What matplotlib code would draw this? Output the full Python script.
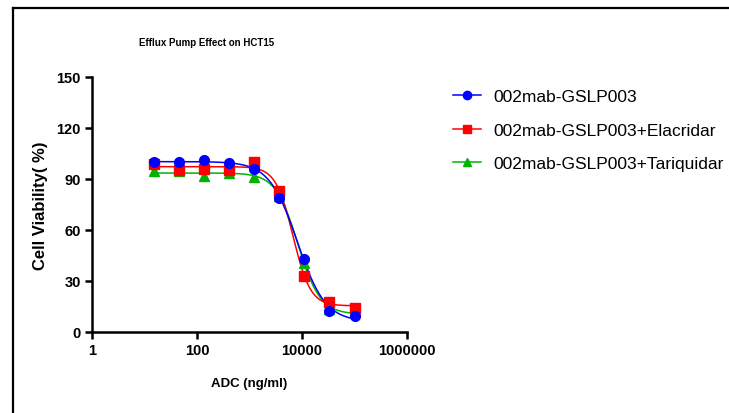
import numpy as np
import matplotlib
matplotlib.use("Agg")
import matplotlib.pyplot as plt
from matplotlib.lines import Line2D

# ADC concentrations (ng/ml), 3-fold dilution
conc = [15.2, 45.7, 137, 412, 1235, 3704, 11111, 33333, 100000]

# cell viability (%)
gslp003 = [100.0, 100.0, 101.0, 99.5, 96.0, 78.7, 42.7, 12.3, 9.4]
elacridar = [99.0, 95.2, 96.0, 95.5, 100.0, 82.8, 32.9, 17.8, 14.3]
tariquidar = [94.6, 94.6, 92.0, 93.6, 91.0, 80.0, 40.7, 13.3, 12.3]

labels = ["002mab-GSLP003", "002mab-GSLP003+Elacridar", "002mab-GSLP003+Tariquidar"]
colors = ["#0000ff", "#ff0000", "#00b400"]
markers = ["o", "s", "^"]

FONT = "Liberation Sans"


def fit_4pl(x, y):
    # grid search on ic50 / hill, top and bottom by linear least squares
    x = np.asarray(x, float)
    y = np.asarray(y, float)
    best = None
    for lic in np.linspace(2.5, 5.0, 251):
        for h in np.linspace(0.5, 4.0, 141):
            s = 1.0 / (1.0 + (x / 10 ** lic) ** h)
            A = np.column_stack([1 - s, s])
            coef, *_ = np.linalg.lstsq(A, y, rcond=None)
            err = np.sum((A @ coef - y) ** 2)
            if best is None or err < best[0]:
                best = (err, coef[0], coef[1], lic, h)
    return best[1:]


fig = plt.figure(figsize=(7.29, 4.14), dpi=100)
ax = fig.add_axes([0.1262, 0.1957, 0.4321, 0.6159])

xs = np.logspace(np.log10(conc[0]), np.log10(conc[-1]), 300)
series = [gslp003, elacridar, tariquidar]
order = [2, 1, 0]
for i in order:
    bot, top, lic, h = fit_4pl(conc, series[i])
    ys = bot + (top - bot) / (1 + (xs / 10 ** lic) ** h)
    ax.plot(xs, ys, color=colors[i], lw=1.1, zorder=2 + (2 - i))
for i in order:
    ms = 7 if markers[i] != "^" else 6.5
    ax.plot(conc, series[i], ls="none", marker=markers[i], ms=ms,
            color=colors[i], zorder=5 + (2 - i))

ax.set_xscale("log")
ax.set_xlim(1, 1000000)
ax.set_ylim(0, 150)
ax.set_xticks([1, 100, 10000, 1000000])
ax.set_xticklabels(["1", "100", "10000", "1000000"])
ax.minorticks_off()
ax.set_yticks([0, 30, 60, 90, 120, 150])

for s in ["top", "right"]:
    ax.spines[s].set_visible(False)
for s in ["left", "bottom"]:
    ax.spines[s].set_linewidth(1.8)
ax.tick_params(axis="both", direction="out", length=5, width=1.8, pad=3)
for lab in ax.get_xticklabels() + ax.get_yticklabels():
    lab.set_fontweight("bold")
    lab.set_family(FONT)
    lab.set_fontsize(10.5)

ax.set_xlabel("ADC (ng/ml)", fontsize=9.5, fontweight="bold",
              family=FONT, labelpad=14)
ax.set_ylabel("Cell Viability( %)", fontsize=12, fontweight="bold",
              family=FONT, labelpad=6)

fig.text(0.283, 0.897, "Efflux Pump Effect on HCT15", fontsize=7,
         fontweight="bold", family=FONT, ha="center", va="center")

handles = [Line2D([0], [0], color=colors[i], marker=markers[i], ms=6, lw=1.1)
           for i in range(3)]
fig.legend(handles, labels, loc="upper left", bbox_to_anchor=(0.6, 0.82),
           frameon=False, handlelength=1.6, handletextpad=0.7,
           labelspacing=1.05, prop={"family": FONT, "size": 12.5})

# outer frame (top and left edges)
fig.add_artist(Line2D([12.5 / 729, 1], [1 - 8.5 / 414, 1 - 8.5 / 414],
                      color="black", lw=1.6, transform=fig.transFigure))
fig.add_artist(Line2D([12.5 / 729, 12.5 / 729], [0, 1 - 8.5 / 414],
                      color="black", lw=1.6, transform=fig.transFigure))

fig.savefig("out.png", dpi=100)
